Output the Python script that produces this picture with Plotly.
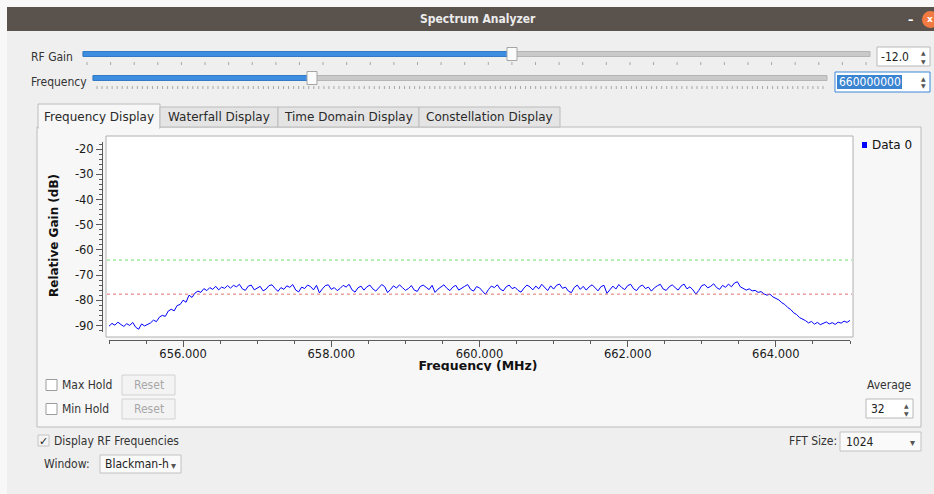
import plotly.graph_objects as go
import numpy as np

W, H = 934, 494

# --- spectrum data ---
FREQ_START_MHZ = 655.0
FREQ_STOP_MHZ = 665.0

gain_db = [
    -90.2, -89.1, -89.8, -88.6, -89.5, -90.3, -89.2, -89.9, -88.7, -90.6, -91.4, -89.3, -90.1,
    -89.4, -88.9, -87.8, -88.4, -86.6, -85.9, -86.3, -84.2, -83.5, -84.1, -82.0, -81.6, -79.9,
    -80.7, -77.9, -78.8, -77.1, -76.3,
    -76.8, -75.3, -76.1, -74.9, -75.6, -74.4, -75.8, -74.7, -75.2, -74.1,
    -75.1, -74.0, -74.6, -73.6, -75.4, -76.0, -74.3, -73.9, -75.8, -75.0, -74.4, -76.2,
    -75.5, -74.1, -73.8, -75.2, -76.4, -74.9, -75.6, -74.2, -74.8, -73.7, -75.9, -76.6,
    -74.7, -75.3, -73.9, -74.5, -75.8, -74.0, -77.0, -75.4, -74.1, -73.8, -75.6, -74.9,
    -76.1, -75.2, -74.0, -74.7, -73.6, -75.8, -76.7, -75.0, -74.3, -75.9, -74.6, -73.9,
    -75.4, -76.3, -74.8, -73.7, -74.5, -76.9, -75.6, -74.2, -75.1, -73.8, -74.9, -76.0,
    -75.3, -74.1, -75.9, -76.4, -74.5, -73.9, -74.8, -75.7, -74.0, -76.8, -75.5, -74.6,
    -73.8, -75.2, -76.1, -74.7, -74.0, -75.9, -75.3, -74.4, -73.7, -75.6, -76.3, -74.5,
    -75.0, -76.2, -77.6, -75.7, -74.3, -74.9, -73.8, -75.5, -76.2, -74.6, -73.9, -75.3,
    -74.8, -76.0, -76.7, -75.1, -73.9, -74.6, -75.8, -74.3, -75.4, -73.6, -74.9, -76.1,
    -74.2, -75.5, -74.0, -73.5, -75.2, -74.7, -76.3, -76.9, -74.8, -73.9, -75.6, -74.4,
    -75.9, -74.6, -73.8, -75.0, -76.2, -74.5, -74.0, -77.2, -75.8, -74.3, -75.5, -73.7,
    -74.9, -75.7, -74.1, -73.6, -75.4, -76.1, -74.5, -73.9, -75.3, -74.7, -76.3, -75.0,
    -74.2, -73.6, -75.5, -76.0, -74.6, -73.8, -74.9, -75.9, -74.3, -73.5, -75.4, -74.6,
    -75.8, -77.5, -76.0, -74.1, -73.7, -75.0, -74.4, -73.4, -74.9, -75.6, -74.0, -74.8,
    -73.5, -74.6, -73.1, -72.6,
    -74.6, -75.3, -75.9, -75.4, -76.2, -76.0, -76.8, -76.5, -77.4, -77.9, -77.5, -78.6,
    -79.1, -79.8, -80.9, -81.6, -82.8, -83.6, -84.9, -85.6, -86.8, -87.3,
    -88.0, -88.9, -88.3, -89.4, -88.7, -89.6, -89.1, -88.5, -89.3, -88.8, -89.5, -88.6,
    -89.0, -88.2, -88.7, -87.9,
]
freq_mhz = np.linspace(FREQ_START_MHZ, FREQ_STOP_MHZ, len(gain_db))

y_tick_vals = [-90, -80, -70, -60, -50, -40, -30, -20]
y_tick_text = ["-90", "-80", "-70", "-60", "-50", "-40", "-30", "-20"]

upper_marker_db = -64.0
lower_marker_db = -77.5

tab_labels = ["Frequency Display", "Waterfall Display", "Time Domain Display", "Constellation Display"]

PLOT_FONT = "DejaVu Sans"
GUI_FONT = "DejaVu Sans Condensed, Liberation Sans Narrow, DejaVu Sans"
WIN_BG = "#efefef"
PANE_BG = "#f7f7f7"
BLUE = "#3d8ee0"

shapes = []
annotations = []


def X(x):
    return x / W


def Y(y):
    return 1 - y / H


def rect(x0, y0, x1, y1, fill, line=None, lw=1, layer="below"):
    shapes.append(dict(type="rect", xref="paper", yref="paper",
                       x0=X(x0), x1=X(x1), y0=Y(y1), y1=Y(y0),
                       fillcolor=fill, layer=layer,
                       line=dict(color=line or fill, width=lw if line else 0)))


def label(x, y, text, size=12, color="#333333", anchor="left", bold=False, family=GUI_FONT, angle=0):
    if bold:
        text = "<b>" + text + "</b>"
    annotations.append(dict(xref="paper", yref="paper", x=X(x), y=Y(y), text=text,
                            showarrow=False, xanchor=anchor, yanchor="middle",
                            textangle=angle, borderpad=0,
                            font=dict(family=family, size=size, color=color)))


def slider(x0, x1, y, pos, n_ticks):
    rect(x0, y - 2.5, x1, y + 2.5, "#cacaca", "#b5b5b5")
    rect(x0, y - 2.5, pos, y + 2.5, BLUE, "#2f7bc8")
    rect(pos - 5, y - 6.5, pos + 5, y + 6.5, "#fbfbfb", "#a5a5a5")
    step = (x1 - x0 - 8) / n_ticks
    path = ""
    for i in range(n_ticks + 1):
        tx = x0 + 4 + i * step
        path += f"M{X(tx)},{Y(y + 8)}L{X(tx)},{Y(y + 11)}"
    shapes.append(dict(type="path", xref="paper", yref="paper", path=path,
                       line=dict(color="#a8a8a8", width=1), layer="below"))


def spin_arrows(x, ymid):
    label(x, ymid - 4, "▲", size=6, color="#555555", anchor="center", family=PLOT_FONT)
    label(x, ymid + 4, "▼", size=6, color="#555555", anchor="center", family=PLOT_FONT)


# window chrome
rect(0, 0, W, 7, "#f8f8f8")
rect(0, 0, 7, H, "#f8f8f8")
rect(7, 7, W, 31, "#59524d")
label(478, 19, "Spectrum Analyzer", size=12, color="#ececec", anchor="center", bold=True)
label(910, 20, "–", size=12, color="#ffffff", anchor="center", bold=True)
shapes.append(dict(type="circle", xref="paper", yref="paper", x0=X(922), x1=X(939),
                   y0=Y(28), y1=Y(11), fillcolor="#f07a42", line=dict(width=0), layer="below"))
label(930, 19, "x", size=9, color="#ffffff", anchor="center", bold=True, family=PLOT_FONT)

# sliders + spinboxes
label(30, 57, "RF Gain")
slider(83, 870, 54, 512, 33)
rect(877, 47, 930, 66, "#ffffff", "#b9b9b9")
label(880, 57, "-12.0", color="#222222")
spin_arrows(923, 57)

label(30, 82, "Frequency")
slider(93, 827, 78, 312, 144)
rect(835, 72, 930, 92, "#ffffff", "#3b87d8")
rect(837, 75, 902, 89, "#3a84d2")
label(838, 82, "660000000", color="#ffffff")
spin_arrows(923, 82)

# tab widget
rect(37, 127, 921, 427, PANE_BG, "#bcbcbc")
tab_edges = [38, 160, 278, 419, 560]
for i, name in enumerate(tab_labels):
    if i == 0:
        rect(tab_edges[i], 104, tab_edges[i + 1], 128, PANE_BG, "#bcbcbc")
        rect(tab_edges[i] + 1, 126, tab_edges[i + 1] - 1, 129, PANE_BG)
    else:
        rect(tab_edges[i], 107, tab_edges[i + 1], 127, "#e4e4e4", "#bcbcbc")
    label((tab_edges[i] + tab_edges[i + 1]) / 2, 116.5, name, size=12, color="#2a2a2a",
          anchor="center", family=PLOT_FONT)

# plot canvas
rect(106, 136, 853, 337, "#ffffff", "#b0b0b0")
shapes.append(dict(type="line", xref="paper", yref="y", x0=X(107), x1=X(852),
                   y0=upper_marker_db, y1=upper_marker_db,
                   line=dict(color="#6fdc6f", width=1, dash="dot")))
shapes.append(dict(type="line", xref="paper", yref="y", x0=X(107), x1=X(852),
                   y0=lower_marker_db, y1=lower_marker_db,
                   line=dict(color="#e07070", width=1, dash="dot")))

# legend
rect(862, 142, 867, 148, "#0000ff")
label(871, 145, "Data 0", size=12, color="#111111", family=PLOT_FONT)

label(54, 236, "Relative Gain (dB)", size=12, color="#111111", anchor="center", bold=True,
      family=PLOT_FONT, angle=-90)

# cover the lower half of the x axis title (it is clipped in the GUI)
rect(38, 371, 920, 426, PANE_BG, layer="above")

# hold controls
for yy, name in [(385, "Max Hold"), (409, "Min Hold")]:
    rect(46, yy - 5.5, 57, yy + 5.5, "#ffffff", "#9c9c9c", layer="above")
    label(61, yy, name)
    rect(122, yy - 10, 175, yy + 10, "#f3f3f3", "#d2d2d2", layer="above")
    label(148.5, yy, "Reset", color="#a8a8a8", anchor="center")

label(913, 385, "Average", anchor="right")
rect(866, 399, 913, 418, "#ffffff", "#b9b9b9", layer="above")
label(870, 409, "32", color="#222222")
spin_arrows(906, 409)

# controls below the tab widget
rect(38, 435, 49, 446, "#f4f4f4", "#c4c4c4")
label(43.5, 441, "✓", size=11, color="#222222", anchor="center", family=PLOT_FONT)
label(53, 441, "Display RF Frequencies")
label(838, 441, "FFT Size:", anchor="right")
rect(840, 432, 921, 451, "#fafafa", "#c2c2c2")
label(845, 441.5, "1024", color="#222222")
label(912, 442, "▾", size=10, color="#555555", anchor="center", family=PLOT_FONT)
label(43, 464, "Window:")
rect(100, 455, 181, 473, "#fafafa", "#c2c2c2")
label(104, 464, "Blackman-h", color="#222222")
label(173, 465, "▾", size=10, color="#555555", anchor="center", family=PLOT_FONT)

fig = go.Figure()
fig.add_trace(go.Scatter(x=freq_mhz, y=gain_db, mode="lines", name="Data 0",
                         line=dict(color="#0000ff", width=1), showlegend=False,
                         hoverinfo="x+y"))
fig.add_trace(go.Scatter(x=[478], y=[367], mode="text", text=["<b>Frequency (MHz)</b>"],
                         textfont=dict(family=PLOT_FONT, size=12.5, color="#111111"),
                         xaxis="x2", yaxis="y2", showlegend=False, hoverinfo="skip"))

axis_font = dict(family=PLOT_FONT, size=11.5, color="#1a1a1a")
fig.update_layout(
    width=W, height=H,
    margin=dict(l=0, r=0, t=0, b=0),
    paper_bgcolor=WIN_BG,
    plot_bgcolor="rgba(0,0,0,0)",
    showlegend=False,
    xaxis=dict(domain=[X(109), X(850)], range=[FREQ_START_MHZ, FREQ_STOP_MHZ],
               anchor="free", position=Y(340), showline=True, linecolor="#5a5a5a",
               ticks="outside", ticklen=6, tickcolor="#5a5a5a", tick0=656, dtick=2,
               tickformat=".3f", tickfont=axis_font, ticklabelstandoff=-3,
               showgrid=False, zeroline=False,
               minor=dict(dtick=0.5, ticks="outside", ticklen=3, tickcolor="#5a5a5a", showgrid=False)),
    yaxis=dict(domain=[Y(332), Y(142)], range=[-92.5, -17.2],
               anchor="free", position=X(102), showline=True, linecolor="#5a5a5a",
               ticks="outside", ticklen=6, tickcolor="#5a5a5a",
               tickmode="array", tickvals=y_tick_vals, ticktext=y_tick_text,
               tickfont=axis_font, showgrid=False, zeroline=False,
               minor=dict(dtick=2, tick0=-20, ticks="outside", ticklen=3, tickcolor="#5a5a5a",
                          showgrid=False)),
    xaxis2=dict(domain=[0, 1], range=[0, W], visible=False, anchor="y2", fixedrange=True),
    yaxis2=dict(domain=[0, 1], range=[H, 0], visible=False, anchor="x2", fixedrange=True),
    shapes=shapes,
    annotations=annotations,
)

fig.write_html("out.html", config={"displayModeBar": False},
               post_script="document.body.style.margin='0';")
